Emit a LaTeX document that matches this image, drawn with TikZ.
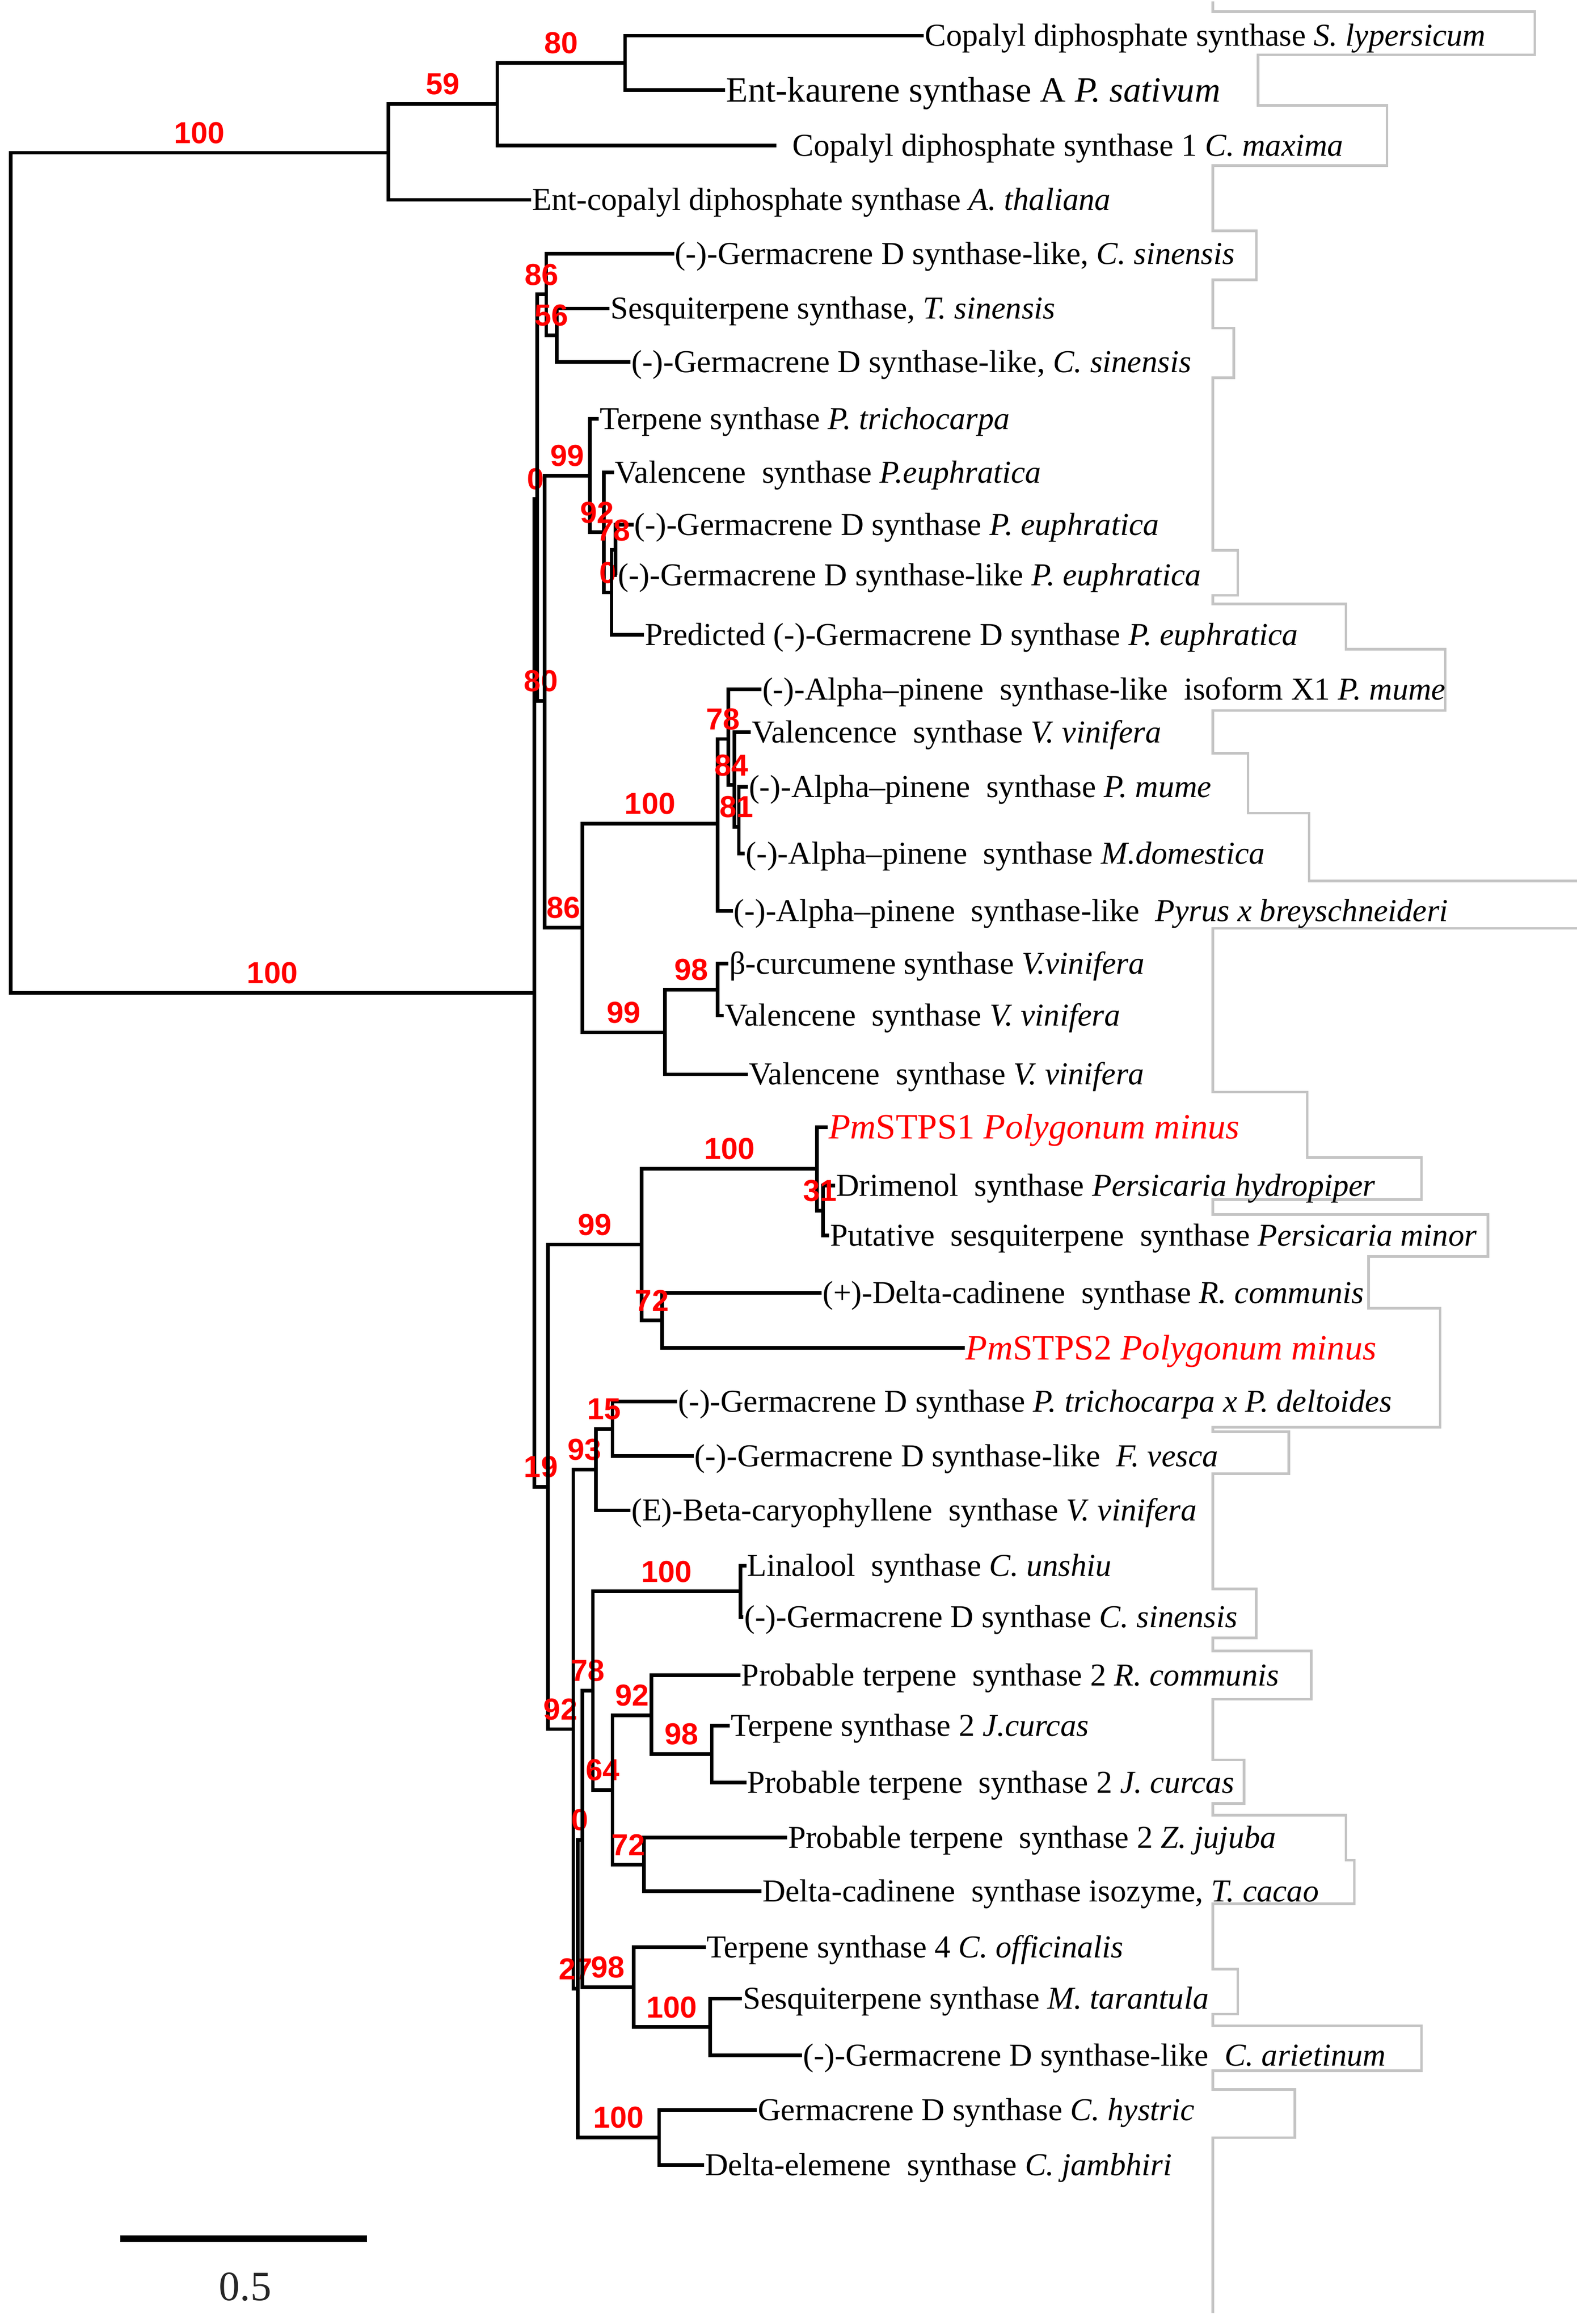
\documentclass[tikz,border=0pt]{standalone}
\usepackage{fontspec}
\setmainfont{Liberation Serif}
\newfontfamily\labelfont{Liberation Sans}
\definecolor{bsred}{HTML}{FF0000}
\definecolor{boxgray}{HTML}{C4C4C4}

\begin{document}
\begin{tikzpicture}[x=0.010122cm, y=-0.01cm]
        \tikzset{branch/.style={draw=black,line width=0.7pt},
                 leaf/.style={anchor=west,inner sep=0pt,font=\fontsize{6.1}{7}\selectfont,text height=5.2pt,text depth=1.2pt},
                 bigleaf/.style={leaf,font=\fontsize{6.8}{8}\selectfont,text height=5.9pt,text depth=1.4pt},
                 pmleaf/.style={bigleaf,text=bsred},
                 bs/.style={pos=0.75,above=1.4pt,inner sep=0pt,text=bsred,font=\labelfont\bfseries\fontsize{5.8}{6}\selectfont},
                 outline/.style={draw=boxgray,line width=0.5pt}}
        \useasboundingbox (0,0) rectangle (1048,1563);
        \clip (0,0) rectangle (1048,1563);
        % text box outlines
        \draw[outline] (806,1) |- (1020,7.8) |- (836,36.9) |- (921.7,70.9) |- (806,111.4)
            |- (835,155.3) |- (806,188.2) |- (820,220.7) |- (806,254.1) |- (822.6,370.1)
            |- (806,400.4) |- (894.5,406.2) |- (960.4,436.6) |- (806,477.9) |- (829.4,506.6)
            |- (870,546.9) |- (1060,592.6) |- (806,624.4) |- (868.7,734.5) |- (944.7,778.5)
            |- (806,806.7) |- (988.8,816.8) |- (909.5,845) |- (957,879.8) |- (806,959.8)
            |- (856.5,963) |- (806,991.2) |- (834.8,1068.6) |- (806,1101.5) |- (871.4,1110.4)
            |- (806,1142.8) |- (826.7,1183.6) |- (806,1212.9) |- (894.5,1220.7) |- (900,1251)
            |- (806,1280.3) |- (822.6,1324.2) |- (806,1354.6) |- (944.7,1362.4) |- (806,1392.7)
            |- (860.6,1405.3) |- (806,1437.7) -- (806,1555.8);
        % inner nodes
        \coordinate (R) at (7,385.5);
        \coordinate (A) at (258,102.7);
        \coordinate (B) at (330.5,70);
        \coordinate (C) at (415.4,42.3);
        \coordinate (D) at (355,667.7);
        \coordinate (n0a) at (357,335.5);
        \coordinate (n86a) at (363,198);
        \coordinate (n56) at (370,225.5);
        \coordinate (n80a) at (362,471.4);
        \coordinate (n99a) at (392,319.9);
        \coordinate (n92a) at (401.4,358);
        \coordinate (n0b) at (406.4,398.5);
        \coordinate (n78a) at (409,369.9);
        \coordinate (n86b) at (387,623.9);
        \coordinate (n100a) at (477,553.8);
        \coordinate (n78b) at (484,497);
        \coordinate (n84) at (488,528);
        \coordinate (n81) at (491,556);
        \coordinate (n99b) at (442,694.3);
        \coordinate (n98a) at (477,665.5);
        \coordinate (n19) at (364,1000);
        \coordinate (n99c) at (426.5,837);
        \coordinate (n100b) at (543,786);
        \coordinate (n31) at (547,814.2);
        \coordinate (n72a) at (440,888);
        \coordinate (n92b) at (381,1162.9);
        \coordinate (n93) at (396,988.4);
        \coordinate (n15) at (407,961);
        \coordinate (n27) at (384,1337.4);
        \coordinate (n0c) at (387,1237.3);
        \coordinate (n78c) at (394,1137);
        \coordinate (n100c) at (492,1070.3);
        \coordinate (n64) at (407,1203.8);
        \coordinate (n92c) at (433,1153.6);
        \coordinate (n98b) at (473,1179.7);
        \coordinate (n72b) at (428,1254);
        \coordinate (n98c) at (421,1336.5);
        \coordinate (n100d) at (472,1363.3);
        \coordinate (n100e) at (438,1437.5);
        % leaves
        \node[leaf] (lSly) at (614,24) {Copalyl diphosphate synthase \textit{S. lypersicum}};
        \node[bigleaf] (lPsa) at (482,60.6) {Ent-kaurene synthase A \textit{P. sativum}};
        \node[leaf] (lCma) at (526,97.8) {Copalyl diphosphate synthase 1 \textit{C. maxima}};
        \coordinate (eCma) at (516,97.8);
        \node[leaf] (lAth) at (353,134.4) {Ent-copalyl diphosphate synthase \textit{A. thaliana}};
        \node[leaf] (lCsi1) at (448,170.6) {(-)-Germacrene D synthase-like, \textit{C. sinensis}};
        \node[leaf] (lTsi) at (405,207.5) {Sesquiterpene synthase, \textit{T. sinensis}};
        \node[leaf] (lCsi2) at (419,243.5) {(-)-Germacrene D synthase-like, \textit{C. sinensis}};
        \node[leaf] (lPtr) at (398,281.7) {Terpene synthase \textit{P. trichocarpa}};
        \node[leaf] (lPeu1) at (408,317.7) {Valencene\ \ synthase \textit{P.euphratica}};
        \node[leaf] (lPeu2) at (421,353) {(-)-Germacrene D synthase \textit{P. euphratica}};
        \node[leaf] (lPeu3) at (410,386.8) {(-)-Germacrene D synthase-like \textit{P. euphratica}};
        \node[leaf] (lPeu4) at (428,427) {Predicted (-)-Germacrene D synthase \textit{P. euphratica}};
        \node[leaf] (lPmu1) at (506,463.7) {(-)-Alpha--pinene\ \ synthase-like\ \ isoform X1 \textit{P. mume}};
        \node[leaf] (lVvi1) at (499,492.5) {Valencence\ \ synthase \textit{V. vinifera}};
        \node[leaf] (lPmu2) at (497,529.1) {(-)-Alpha--pinene\ \ synthase \textit{P. mume}};
        \node[leaf] (lMdo) at (495,574) {(-)-Alpha--pinene\ \ synthase \textit{M.domestica}};
        \node[leaf] (lPbr) at (487,612.7) {(-)-Alpha--pinene\ \ synthase-like\ \ \textit{Pyrus x breyschneideri}};
        \node[leaf] (lVvi2) at (484,648) {β-curcumene synthase \textit{V.vinifera}};
        \node[leaf] (lVvi3) at (481,683) {Valencene\ \ synthase \textit{V. vinifera}};
        \node[leaf] (lVvi4) at (497,722.5) {Valencene\ \ synthase \textit{V. vinifera}};
        \node[pmleaf] (lPm1) at (550,758) {\textit{Pm}STPS1 \textit{Polygonum minus}};
        \node[leaf] (lPhy) at (555,797.4) {Drimenol\ \ synthase \textit{Persicaria hydropiper}};
        \node[leaf] (lPmi) at (551,831) {Putative\ \ sesquiterpene\ \ synthase \textit{Persicaria minor}};
        \node[leaf] (lRco1) at (546,869.4) {(+)-Delta-cadinene\ \ synthase \textit{R. communis}};
        \node[pmleaf] (lPm2) at (641,906.5) {\textit{Pm}STPS2 \textit{Polygonum minus}};
        \node[leaf] (lPde) at (450,942.6) {(-)-Germacrene D synthase \textit{P. trichocarpa x P. deltoides}};
        \node[leaf] (lFve) at (461,979.2) {(-)-Germacrene D synthase-like\ \ \textit{F. vesca}};
        \node[leaf] (lVvi5) at (419,1015.8) {(E)-Beta-caryophyllene\ \ synthase \textit{V. vinifera}};
        \node[leaf] (lCun) at (496,1053) {Linalool\ \ synthase \textit{C. unshiu}};
        \node[leaf] (lCsi3) at (494,1087.5) {(-)-Germacrene D synthase \textit{C. sinensis}};
        \node[leaf] (lRco2) at (492,1126.6) {Probable terpene\ \ synthase 2 \textit{R. communis}};
        \node[leaf] (lJcu1) at (485,1160.6) {Terpene synthase 2 \textit{J.curcas}};
        \node[leaf] (lJcu2) at (496,1198.8) {Probable terpene\ \ synthase 2 \textit{J. curcas}};
        \node[leaf] (lZju) at (523,1235.8) {Probable terpene\ \ synthase 2 \textit{Z. jujuba}};
        \node[leaf] (lTca) at (506,1272) {Delta-cadinene\ \ synthase isozyme, \textit{T. cacao}};
        \node[leaf] (lCof) at (469,1309.6) {Terpene synthase 4 \textit{C. officinalis}};
        \node[leaf] (lMta) at (493,1344.2) {Sesquiterpene synthase \textit{M. tarantula}};
        \node[leaf] (lCar) at (533,1382.3) {(-)-Germacrene D synthase-like\ \ \textit{C. arietinum}};
        \node[leaf] (lChy) at (503,1419) {Germacrene D synthase \textit{C. hystric}};
        \node[leaf] (lCja) at (468,1456) {Delta-elemene\ \ synthase \textit{C. jambhiri}};
        % branches to leaves
        \draw[branch] (C) |- (lSly.west);
        \draw[branch] (C) |- (lPsa.west);
        \draw[branch] (B) |- (eCma);
        \draw[branch] (A) |- (lAth.west);
        \draw[branch] (n86a) |- (lCsi1.west);
        \draw[branch] (n56) |- (lTsi.west);
        \draw[branch] (n56) |- (lCsi2.west);
        \draw[branch] (n99a) |- (lPtr.west);
        \draw[branch] (n92a) |- (lPeu1.west);
        \draw[branch] (n78a) |- (lPeu2.west);
        \draw[branch] (n78a) |- (lPeu3.west);
        \draw[branch] (n0b) |- (lPeu4.west);
        \draw[branch] (n78b) |- (lPmu1.west);
        \draw[branch] (n84) |- (lVvi1.west);
        \draw[branch] (n81) |- (lPmu2.west);
        \draw[branch] (n81) |- (lMdo.west);
        \draw[branch] (n100a) |- (lPbr.west);
        \draw[branch] (n98a) |- (lVvi2.west);
        \draw[branch] (n98a) |- (lVvi3.west);
        \draw[branch] (n99b) |- (lVvi4.west);
        \draw[branch] (n100b) |- (lPm1.west);
        \draw[branch] (n31) |- (lPhy.west);
        \draw[branch] (n31) |- (lPmi.west);
        \draw[branch] (n72a) |- (lRco1.west);
        \draw[branch] (n72a) |- (lPm2.west);
        \draw[branch] (n15) |- (lPde.west);
        \draw[branch] (n15) |- (lFve.west);
        \draw[branch] (n93) |- (lVvi5.west);
        \draw[branch] (n100c) |- (lCun.west);
        \draw[branch] (n100c) |- (lCsi3.west);
        \draw[branch] (n92c) |- (lRco2.west);
        \draw[branch] (n98b) |- (lJcu1.west);
        \draw[branch] (n98b) |- (lJcu2.west);
        \draw[branch] (n72b) |- (lZju.west);
        \draw[branch] (n72b) |- (lTca.west);
        \draw[branch] (n98c) |- (lCof.west);
        \draw[branch] (n100d) |- (lMta.west);
        \draw[branch] (n100d) |- (lCar.west);
        \draw[branch] (n100e) |- (lChy.west);
        \draw[branch] (n100e) |- (lCja.west);
        % inner branches with support values
        \draw[branch] (R) |- (A) node[bs] (sA) {100};
        \draw[branch] (A) |- (B) node[bs] (sB) {59};
        \draw[branch] (B) |- (C) node[bs] (sC) {80};
        \draw[branch] (R) |- (D) node[bs] (sD) {100};
        \draw[branch] (D) |- (n0a) node[bs] (s0a) {0};
        \draw[branch] (n0a) |- (n86a) node[bs] (s86a) {86};
        \draw[branch] (n86a) |- (n56) node[bs] (s56) {56};
        \draw[branch] (n0a) |- (n80a) node[bs] (s80a) {80};
        \draw[branch] (n80a) |- (n99a) node[bs] (s99a) {99};
        \draw[branch] (n99a) |- (n92a) node[bs] (s92a) {92};
        \draw[branch] (n92a) |- (n0b) node[bs] (s0b) {0};
        \draw[branch] (n0b) |- (n78a) node[bs] (s78a) {78};
        \draw[branch] (n80a) |- (n86b) node[bs] (s86b) {86};
        \draw[branch] (n86b) |- (n100a) node[bs] (s100a) {100};
        \draw[branch] (n100a) |- (n78b) node[bs] (s78b) {78};
        \draw[branch] (n78b) |- (n84) node[bs] (s84) {84};
        \draw[branch] (n84) |- (n81) node[bs] (s81) {81};
        \draw[branch] (n86b) |- (n99b) node[bs] (s99b) {99};
        \draw[branch] (n99b) |- (n98a) node[bs] (s98a) {98};
        \draw[branch] (D) |- (n19) node[bs] (s19) {19};
        \draw[branch] (n19) |- (n99c) node[bs] (s99c) {99};
        \draw[branch] (n99c) |- (n100b) node[bs] (s100b) {100};
        \draw[branch] (n100b) |- (n31) node[bs] (s31) {31};
        \draw[branch] (n99c) |- (n72a) node[bs] (s72a) {72};
        \draw[branch] (n19) |- (n92b) node[bs] (s92b) {92};
        \draw[branch] (n92b) |- (n93) node[bs] (s93) {93};
        \draw[branch] (n93) |- (n15) node[bs] (s15) {15};
        \draw[branch] (n92b) |- (n27) node[bs] (s27) {27};
        \draw[branch] (n27) |- (n0c) node[bs] (s0c) {0};
        \draw[branch] (n0c) |- (n78c) node[bs] (s78c) {78};
        \draw[branch] (n78c) |- (n100c) node[bs] (s100c) {100};
        \draw[branch] (n78c) |- (n64) node[bs] (s64) {64};
        \draw[branch] (n64) |- (n92c) node[bs] (s92c) {92};
        \draw[branch] (n92c) |- (n98b) node[bs] (s98b) {98};
        \draw[branch] (n64) |- (n72b) node[bs] (s72b) {72};
        \draw[branch] (n0c) |- (n98c) node[bs] (s98c) {98};
        \draw[branch] (n98c) |- (n100d) node[bs] (s100d) {100};
        \draw[branch] (n27) |- (n100e) node[bs] (s100e) {100};
        % scale bar
        \coordinate (sb1) at (80,1505.6);
        \coordinate (sb2) at (244,1505.6);
        \draw[line width=1.2pt] (sb1) -- (sb2);
        \node[font=\fontsize{8}{9}\selectfont,text=black!85] (sbl) at (163,1538) {0.5};
\end{tikzpicture}
\end{document}
